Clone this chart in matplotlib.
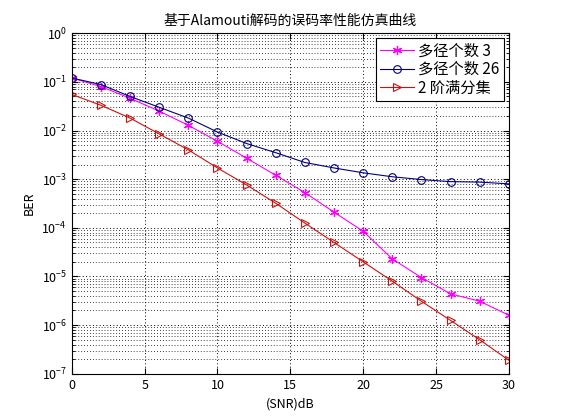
import matplotlib

matplotlib.use("Agg")

import matplotlib.pyplot as plt
import numpy as np

snr = np.arange(0, 31, 2)
ber_path3 = [0.12, 0.080, 0.046, 0.025, 0.0128, 0.0060, 0.0027, 0.0012,
             5.3e-4, 2.1e-4, 8.5e-5, 2.3e-5, 9.5e-6, 4.4e-6, 3.1e-6, 1.6e-6]
ber_path26 = [0.12, 0.088, 0.050, 0.030, 0.018, 0.0093, 0.0054, 0.0035,
              0.0022, 0.0017, 0.00135, 0.00112, 9.8e-4, 8.9e-4, 8.7e-4, 8.0e-4]
ber_div2 = [0.055, 0.033, 0.018, 0.0085, 0.0040, 0.0017, 7.6e-4, 3.2e-4,
            1.25e-4, 5.0e-5, 2.0e-5, 8.0e-6, 3.1e-6, 1.25e-6, 5.0e-7, 1.9e-7]

labels = ["多径个数 3", "多径个数 26", "2 阶满分集"]
title = "基于Alamouti解码的误码率性能仿真曲线"

plt.rcParams["font.family"] = ["Noto Sans CJK SC", "DejaVu Sans"]
plt.rcParams["font.size"] = 9
plt.rcParams["mathtext.fontset"] = "dejavusans"

fig = plt.figure(figsize=(5.61, 4.2), dpi=100)
ax = fig.add_axes([0.128, 0.110, 0.779, 0.811])

# asterisk marker like matlab's '*'
ax.semilogy(snr, ber_path3, "-", marker=(6, 2, 0), color="#ff00ff", lw=0.8, ms=6.5, mew=0.9, label=labels[0])
ax.semilogy(snr, ber_path26, "-o", color="#00007f", lw=0.8, ms=5.5, mfc="none", mew=0.8, label=labels[1])
ax.semilogy(snr, ber_div2, "->", color="#cc1010", lw=0.8, ms=5.5, mfc="none", mew=0.8, label=labels[2])

ax.set_xlim(0, 30)
ax.set_ylim(1e-7, 1)
ax.set_xticks(np.arange(0, 31, 5))
ax.set_yticks([10.0 ** k for k in range(-7, 1)])
ax.tick_params(direction="in", which="both", top=True, right=True, labelsize=9)
ax.tick_params(which="major", length=4)
ax.tick_params(which="minor", length=2)
ax.grid(True, which="major", ls=(0, (1, 2.5)), color="black", lw=0.7)
ax.grid(True, which="minor", axis="y", ls=(0, (1, 2.5)), color="black", lw=0.6)

ax.set_title(title, fontsize=10)
ax.set_xlabel("(SNR)dB", fontsize=9)
ax.set_ylabel("BER", fontsize=9)

leg = ax.legend(loc="upper right", fancybox=False, framealpha=1, edgecolor="black",
                fontsize=11, borderaxespad=0.3, handlelength=2.2, handletextpad=0.3,
                labelspacing=0.1, borderpad=0.3)
leg.get_frame().set_linewidth(0.8)

fig.savefig("out.png", dpi=100)
